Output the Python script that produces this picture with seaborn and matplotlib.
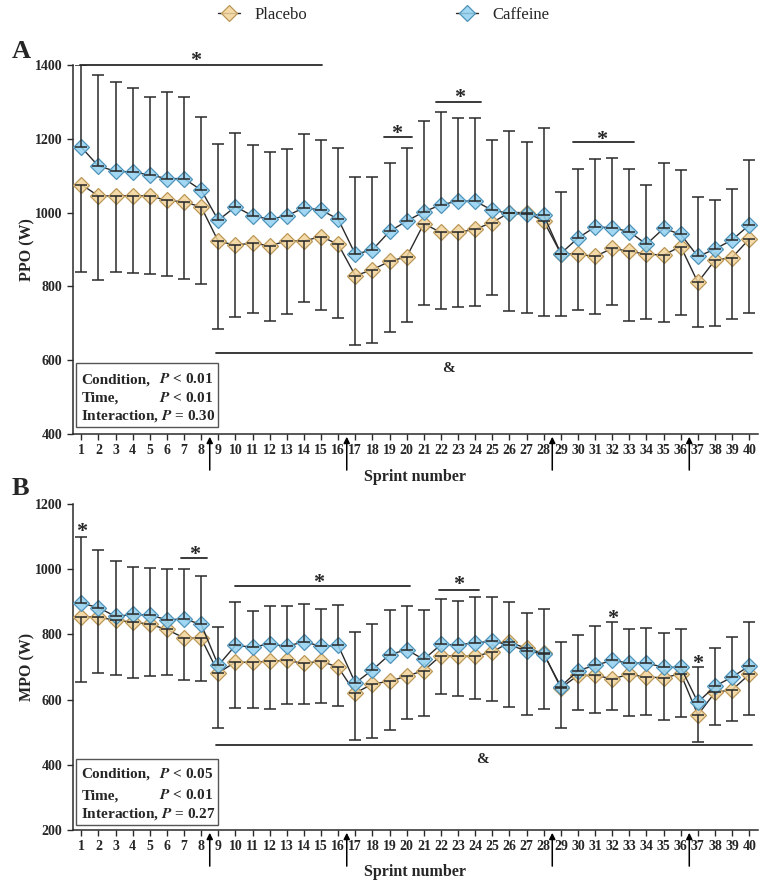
import matplotlib
matplotlib.use("Agg")
import matplotlib.pyplot as plt
from matplotlib.lines import Line2D
from matplotlib.patches import Rectangle
import seaborn as sns

# -------------------------
# Data
# -------------------------
sprints = list(range(1, 41))
arrow_positions = [8.5, 16.5, 28.5, 36.5]

# Panel A - peak power output (W)
ppo_caffeine = [1177, 1126, 1112, 1110, 1102, 1092, 1092, 1061, 979, 1016,
                991, 982, 991, 1013, 1007, 982, 887, 899, 949, 977,
                1002, 1021, 1031, 1031, 1006, 998, 995, 993, 889, 931,
                961, 959, 948, 914, 957, 941, 881, 901, 926, 966]
ppo_caffeine_sd = [223, 246, 242, 228, 211, 235, 221, 199, 206, 199,
                   193, 182, 180, 199, 189, 192, 210, 196, 186, 197,
                   246, 251, 224, 224, 190, 223, 197, 237, 168, 188,
                   183, 190, 171, 161, 177, 175, 160, 133, 138, 176]
ppo_placebo = [1076, 1045, 1045, 1046, 1045, 1033, 1029, 1015, 922, 912,
               917, 910, 923, 923, 935, 914, 829, 845, 868, 880,
               970, 946, 946, 955, 973, 1000, 1000, 977, 889, 887,
               881, 903, 895, 887, 885, 908, 811, 871, 878, 928]
ppo_placebo_sd = [236, 227, 207, 210, 212, 206, 209, 209, 237, 196,
                  189, 203, 198, 165, 198, 200, 189, 198, 192, 176,
                  220, 207, 201, 207, 196, 266, 272, 257, 169, 151,
                  157, 153, 189, 175, 181, 186, 122, 178, 166, 200]

# Panel B - mean power output (W)
mpo_caffeine = [896, 882, 855, 861, 859, 845, 847, 831, 705, 766,
                761, 771, 763, 778, 763, 766, 651, 691, 738, 753,
                723, 769, 768, 774, 779, 768, 749, 740, 640, 689,
                705, 720, 712, 712, 699, 699, 592, 641, 669, 703]
mpo_caffeine_sd = [202, 178, 170, 145, 145, 154, 152, 149, 118, 134,
                   111, 115, 123, 116, 116, 123, 157, 140, 136, 134,
                   151, 141, 134, 142, 137, 131, 117, 139, 136, 110,
                   122, 118, 103, 108, 105, 116, 107, 118, 122, 135]
mpo_placebo = [854, 853, 843, 838, 831, 815, 789, 788, 682, 715,
               714, 718, 720, 711, 718, 699, 620, 648, 656, 672,
               689, 735, 733, 733, 746, 776, 757, 742, 636, 674,
               674, 664, 677, 669, 667, 679, 553, 622, 630, 677]
mpo_placebo_sd = [200, 172, 168, 171, 160, 141, 129, 131, 169, 140,
                  139, 147, 135, 124, 127, 120, 144, 167, 149, 132,
                  139, 119, 122, 131, 151, 199, 205, 171, 123, 105,
                  115, 97, 127, 117, 129, 133, 84, 99, 97, 124]

ppo_stats = [("Condition,", "< 0.01"), ("Time,", "< 0.01"), ("Interaction,", "= 0.30")]
mpo_stats = [("Condition,", "< 0.05"), ("Time,", "< 0.01"), ("Interaction,", "= 0.27")]

# -------------------------
# Style
# -------------------------
sns.set_style("ticks")
plt.rcParams["font.family"] = ["Liberation Serif", "DejaVu Serif"]
plt.rcParams["font.weight"] = "bold"
plt.rcParams["mathtext.fontset"] = "stix"

INK = "#2a2a2a"
caf_face = (0.57, 0.82, 0.94, 0.85)
caf_edge = "#4f93ba"
pla_face = (0.95, 0.83, 0.60, 0.85)
pla_edge = "#bb9858"

fig = plt.figure(figsize=(7.68, 8.86), dpi=100)
ax_a = fig.add_axes([0.0947, 0.5102, 0.892, 0.4165])
ax_b = fig.add_axes([0.0947, 0.0632, 0.892, 0.368])


def draw_panel(ax, caf, caf_sd, pla, pla_sd, ylim, ylabel, stats, box, xlab_y):
    zeros = [0] * len(sprints)
    for vals, face, edge in [(pla, pla_face, pla_edge), (caf, caf_face, caf_edge)]:
        sns.lineplot(x=sprints, y=vals, ax=ax, color=INK, lw=1.0, marker="D",
                     markersize=8, markerfacecolor=face, markeredgecolor=edge,
                     markeredgewidth=0.9, zorder=3)
    ax.errorbar(sprints, caf, yerr=[zeros, caf_sd], fmt="none", ecolor=INK,
                elinewidth=1.1, capsize=4.5, capthick=1.1, zorder=4)
    ax.errorbar(sprints, pla, yerr=[pla_sd, zeros], fmt="none", ecolor=INK,
                elinewidth=1.1, capsize=4.5, capthick=1.1, zorder=4)

    ax.set_xlim(0.5, 40.5)
    ax.set_ylim(*ylim)
    ax.set_yticks(range(ylim[0], ylim[1] + 1, 200))
    ax.set_xticks(sprints)
    ax.tick_params(axis="both", labelsize=10, width=1.0, length=4, color=INK)
    for lab in ax.get_xticklabels() + ax.get_yticklabels():
        lab.set_fontweight("bold")
    sns.despine(ax=ax)
    for sp in ["left", "bottom"]:
        ax.spines[sp].set_linewidth(1.1)
        ax.spines[sp].set_color(INK)

    ax.set_ylabel(ylabel, fontsize=11.5, fontweight="bold")
    ax.yaxis.set_label_coords(-0.055, 0.5)
    ax.set_xlabel("Sprint number", fontsize=11.5, fontweight="bold")
    ax.xaxis.set_label_coords(0.5, xlab_y)

    # arrows between blocks
    for s in arrow_positions:
        ax.annotate("", xy=(s, 0), xycoords=("data", "axes fraction"),
                    xytext=(0, -26), textcoords="offset points",
                    arrowprops=dict(arrowstyle="-|>", color="k", lw=1.1,
                                    mutation_scale=9, shrinkA=0, shrinkB=2),
                    annotation_clip=False)

    # statistics box
    x0, y0, w, h, ys = box
    ax.add_patch(Rectangle((x0, y0), w, h, transform=ax.transAxes, fill=False,
                           ec="#555555", lw=1.0, clip_on=False))
    for i, (lab, p) in enumerate(stats[:2]):
        ax.text(0.0127, ys[i], lab, transform=ax.transAxes, fontsize=11,
                fontweight="bold", va="baseline")
        ax.text(0.126, ys[i], r"$\mathbfit{P}$ " + p, transform=ax.transAxes,
                fontsize=11, fontweight="bold", va="baseline")
    lab, p = stats[2]
    ax.text(0.0127, ys[2], lab + r" $\mathbfit{P}$ " + p, transform=ax.transAxes,
            fontsize=11, fontweight="bold", va="baseline")


def sig_line(ax, x1, x2, y):
    ax.plot([x1, x2], [y, y], color=INK, lw=1.3, clip_on=False, zorder=2)


def mark(ax, s, x, y, size=16, drop=7.5):
    ax.annotate(s, xy=(x, y), xytext=(0, -drop), textcoords="offset points",
                ha="center", va="baseline", fontsize=size, fontweight="bold",
                annotation_clip=False)


draw_panel(ax_a, ppo_caffeine, ppo_caffeine_sd, ppo_placebo, ppo_placebo_sd,
           (400, 1400), "PPO (W)", ppo_stats,
           (0.0048, 0.0198, 0.207, 0.173, [0.137, 0.0875, 0.040]), -0.095)
draw_panel(ax_b, mpo_caffeine, mpo_caffeine_sd, mpo_placebo, mpo_placebo_sd,
           (200, 1200), "MPO (W)", mpo_stats,
           (0.0048, 0.0153, 0.207, 0.203, [0.160, 0.095, 0.037]), -0.104)

# significance marks, panel A
sig_line(ax_a, 0.94, 15.04, 1400)
mark(ax_a, "*", 7.65, 1425)
sig_line(ax_a, 18.67, 20.3, 1205)
mark(ax_a, "*", 19.4, 1227)
sig_line(ax_a, 21.74, 24.36, 1300)
mark(ax_a, "*", 23.1, 1324)
sig_line(ax_a, 29.7, 33.26, 1191)
mark(ax_a, "*", 31.4, 1210)
sig_line(ax_a, 8.87, 40.18, 620)
mark(ax_a, "&", 22.46, 582, size=11, drop=3.7)

# significance marks, panel B
mark(ax_b, "*", 1.0, 1130)
sig_line(ax_b, 6.83, 8.33, 1033)
mark(ax_b, "*", 7.59, 1061)
sig_line(ax_b, 9.98, 20.18, 949)
mark(ax_b, "*", 14.84, 974)
sig_line(ax_b, 21.9, 24.2, 937)
mark(ax_b, "*", 23.06, 968)
mark(ax_b, "*", 32.0, 864)
mark(ax_b, "*", 37.0, 725)
sig_line(ax_b, 8.87, 40.18, 461)
mark(ax_b, "&", 24.4, 420, size=11, drop=3.7)

# panel letters
fig.text(12 / 768, 1 - 58 / 886, "A", fontsize=19, fontweight="bold", va="baseline")
fig.text(12 / 768, 1 - 495 / 886, "B", fontsize=19, fontweight="bold", va="baseline")

# legend
handles = [
    Line2D([], [], color=INK, lw=1.0, marker="D", markersize=8,
           markerfacecolor=pla_face, markeredgecolor=pla_edge, markeredgewidth=0.9),
    Line2D([], [], color=INK, lw=1.0, marker="D", markersize=8,
           markerfacecolor=caf_face, markeredgecolor=caf_edge, markeredgewidth=0.9),
]
leg = fig.legend(handles, ["Placebo", "Caffeine"], loc="center",
                 bbox_to_anchor=(0.5, 1 - 15 / 886), ncol=2, frameon=False,
                 handlelength=1.3, handletextpad=0.9, columnspacing=8.9,
                 prop={"family": "Liberation Serif", "weight": "normal", "size": 12})

fig.savefig("out.png", dpi=100)
